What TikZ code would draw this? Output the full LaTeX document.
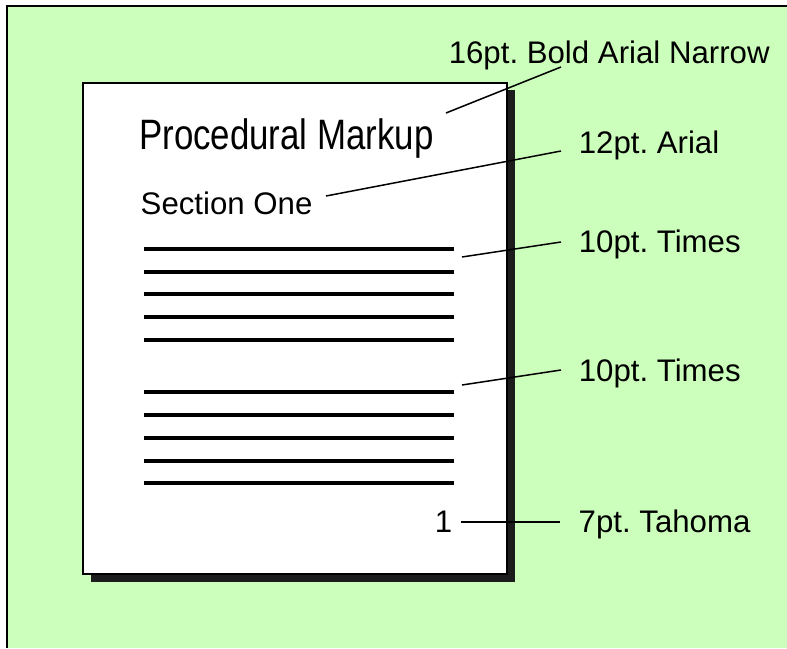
\documentclass[tikz,border=0pt]{standalone}
\usepackage{fontspec}
\setmainfont{Liberation Sans}
\newfontfamily\narrowfont[FakeStretch=0.82]{Liberation Sans}
\definecolor{sheetgreen}{RGB}{204,255,187}
\definecolor{shadowgray}{RGB}{28,28,28}
\frenchspacing
\begin{document}
\begin{tikzpicture}[x=1pt,y=-1pt,
  lbl/.style={anchor=base west,inner sep=0pt,font=\fontsize{31.2}{31.2}\selectfont},
  txtline/.style={line width=4pt},
  leader/.style={line width=1.5pt}]
\useasboundingbox (0,0) rectangle (787,648);
% backdrop with top and left rule
\fill[sheetgreen] (6,6) rectangle (787,648);
\draw[line width=2.5pt] (7,648) -- (7,6) -- (787,6);
% page with drop shadow
\fill[shadowgray] (91,90) rectangle (515,582);
\draw[fill=white,line width=2pt] (83,83) rectangle (507,574);
% headings
\node[anchor=base west,inner sep=0pt,font=\narrowfont\fontsize{42.5}{42.5}\selectfont] (title) at (139,149) {Procedural Markup};
\node[lbl] (section) at (140.5,214) {Section One};
% body text lines
\foreach \y in {249,272,294,317,340,392,415,438,461,483}
  \draw[txtline] (144,\y) -- (454,\y);
% page number
\node[lbl] (pagenum) at (434.6,532) {1};
% annotations
\node[lbl] (l1) at (448.6,63) {16pt. Bold Arial Narrow};
\node[lbl] (l2) at (578.6,153) {12pt. Arial};
\node[lbl] (l3) at (578.6,252) {10pt. Times};
\node[lbl] (l4) at (578.6,381) {10pt. Times};
\node[lbl] (l5) at (578.5,532) {7pt. Tahoma};
% leader end points
\coordinate (a1) at (446,113); \coordinate (b1) at (561,67);
\coordinate (a2) at (326,196); \coordinate (b2) at (561,151);
\coordinate (a3) at (462,257); \coordinate (b3) at (561,242);
\coordinate (a4) at (462,385); \coordinate (b4) at (561,370);
\coordinate (a5) at (461,522); \coordinate (b5) at (560,522);
\foreach \i in {1,...,5}
  \draw[leader] (a\i) -- (b\i);
\end{tikzpicture}
\end{document}
